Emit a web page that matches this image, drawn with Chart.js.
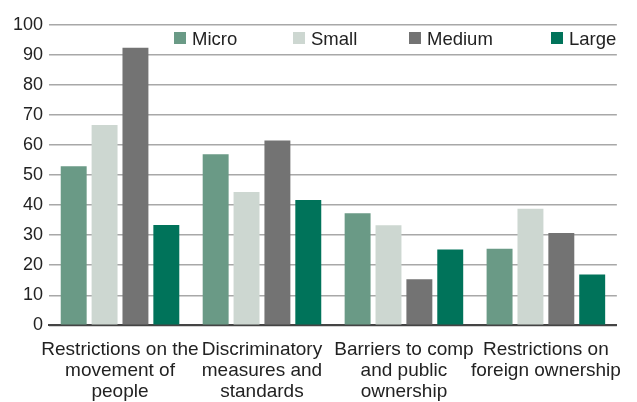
<!DOCTYPE html>
<html><head><meta charset="utf-8">
<script src="https://cdn.jsdelivr.net/npm/chart.js@4/dist/chart.umd.min.js"></script>
<style>html,body{margin:0;padding:0;background:#fff}#wrap{width:637px;height:402px}</style>
</head><body><div id="wrap"><canvas id="c" width="637" height="402"></canvas></div>
<script>
const categories = [
  ["Restrictions on the","movement of","people"],
  ["Discriminatory","measures and","standards"],
  ["Barriers to comp","and public","ownership"],
  ["Restrictions on","foreign ownership"]
];
const seriesNames = ["Micro","Small","Medium","Large"];
const micro  = [53, 57, 37.3, 25.5];
const small  = [66.7, 44.4, 33.3, 38.8];
const medium = [92.4, 61.5, 15.3, 30.7];
const large  = [33.4, 41.7, 25.2, 16.9];
const yTicks = [0,10,20,30,40,50,60,70,80,90,100];
const colors = ["#6a9a86","#cdd7d1","#737373","#00735a"];

const FONT = "'Liberation Sans', Arial, Helvetica, sans-serif";

const legendPlugin = {
  id: 'insideLegend',
  afterDraw(chart) {
    const ctx = chart.ctx;
    const xs = [174, 293, 409, 551];
    ctx.save();
    ctx.font = "18.5px " + FONT;
    ctx.textBaseline = 'middle';
    seriesNames.forEach((n, i) => {
      ctx.fillStyle = colors[i];
      ctx.fillRect(xs[i], 32, 12, 12);
      ctx.fillStyle = '#222';
      ctx.fillText(n, xs[i] + 18, 39.5);
    });
    ctx.restore();
  }
};

new Chart(document.getElementById('c'), {
  type: 'bar',
  data: {
    labels: categories,
    datasets: [
      {label: seriesNames[0], data: micro,  backgroundColor: colors[0]},
      {label: seriesNames[1], data: small,  backgroundColor: colors[1]},
      {label: seriesNames[2], data: medium, backgroundColor: colors[2]},
      {label: seriesNames[3], data: large,  backgroundColor: colors[3]}
    ]
  },
  options: {
    responsive: false,
    animation: false,
    devicePixelRatio: 1,
    layout: {padding: {left: 7, right: 17, top: 25, bottom: -14}},
    datasets: {bar: {categoryPercentage: 0.87, barPercentage: 0.84, borderWidth: 0}},
    plugins: {legend: {display: false}, tooltip: {enabled: false}},
    scales: {
      x: {
        grid: {display: false, drawTicks: false},
        border: {display: true, color: '#444', width: 2},
        ticks: {color: '#222', font: {family: FONT, size: 19, lineHeight: 1.1}, maxRotation: 0, autoSkip: false, padding: 14}
      },
      y: {
        min: 0, max: 100,
        afterBuildTicks: (axis) => { axis.ticks = yTicks.map(v => ({value: v})); },
        grid: {color: '#a8a8a8', lineWidth: 1.5, drawTicks: false},
        border: {display: false},
        ticks: {color: '#222', font: {family: FONT, size: 18}, padding: 6}
      }
    }
  },
  plugins: [legendPlugin]
});
</script></body></html>
